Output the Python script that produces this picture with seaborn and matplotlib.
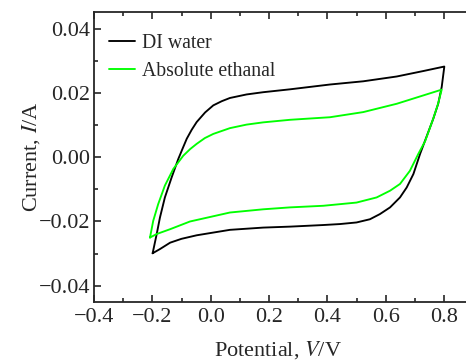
import numpy as np
import pandas as pd
import matplotlib
matplotlib.use("Agg")
import matplotlib.pyplot as plt
import seaborn as sns
from matplotlib.ticker import MultipleLocator

# Data (potential in V, current in A)
# DI water: forward scan (-0.2 -> 0.8) then reverse scan back to -0.2
water_fwd_v = [-0.199, -0.185, -0.174, -0.157, -0.134, -0.111, -0.095, -0.082, -0.065, -0.048,
               -0.019, 0.009, 0.038, 0.066, 0.123, 0.18, 0.272, 0.409, 0.523, 0.638, 0.729, 0.801]
water_fwd_i = [-0.0299, -0.0239, -0.0188, -0.0125, -0.0063, -0.0005, 0.0030, 0.0058, 0.0086, 0.0110,
               0.0140, 0.0162, 0.0175, 0.0185, 0.0196, 0.0203, 0.0212, 0.0227, 0.0237, 0.0252, 0.0269, 0.0283]
water_rev_v = [0.792, 0.780, 0.763, 0.735, 0.718, 0.695, 0.672, 0.649, 0.615, 0.580, 0.546,
               0.50, 0.443, 0.386, 0.272, 0.18, 0.066, -0.048, -0.100, -0.139, -0.174, -0.199]
water_rev_i = [0.0219, 0.0167, 0.0120, 0.0052, 0.0011, -0.0052, -0.0094, -0.0125, -0.0156, -0.0177, -0.0193,
               -0.0203, -0.0208, -0.0211, -0.0216, -0.0219, -0.0226, -0.0243, -0.0254, -0.0266, -0.0286, -0.0299]

# Absolute ethanal
eth_fwd_v = [-0.208, -0.197, -0.180, -0.157, -0.128, -0.094, -0.070, -0.048, -0.020, 0.009,
             0.066, 0.123, 0.18, 0.272, 0.409, 0.523, 0.638, 0.729, 0.792]
eth_fwd_i = [-0.0250, -0.0198, -0.0146, -0.0088, -0.0036, 0.0005, 0.0026, 0.0042, 0.0060, 0.0073,
             0.0091, 0.0102, 0.0109, 0.0117, 0.0125, 0.0141, 0.0167, 0.0193, 0.0211]
eth_rev_v = [0.779, 0.762, 0.735, 0.712, 0.683, 0.649, 0.615, 0.569, 0.50, 0.386, 0.272,
             0.18, 0.066, -0.071, -0.139, -0.185, -0.208]
eth_rev_i = [0.0165, 0.0118, 0.0050, 0.0011, -0.0042, -0.0083, -0.0104, -0.0125, -0.0141, -0.0151, -0.0156,
             -0.0162, -0.0172, -0.0200, -0.0224, -0.0239, -0.0250]

labels = ["DI water", "Absolute ethanal"]
colors = ["black", "#00ff00"]

df = pd.concat([
    pd.DataFrame({"V": water_fwd_v + water_rev_v, "I": water_fwd_i + water_rev_i, "sample": labels[0]}),
    pd.DataFrame({"V": eth_fwd_v + eth_rev_v, "I": eth_fwd_i + eth_rev_i, "sample": labels[1]}),
], ignore_index=True)

sns.set_style("ticks")
plt.rcParams["font.family"] = ["Liberation Serif", "DejaVu Serif"]
plt.rcParams["mathtext.fontset"] = "stix"
plt.rcParams["font.size"] = 16

fig = plt.figure(figsize=(4.66, 3.62), dpi=100)
# axes run past the right edge of the image, as in the reference
ax = fig.add_axes([94 / 466, 60.3 / 362, 379.2 / 466, 289.7 / 362])

sns.lineplot(data=df, x="V", y="I", hue="sample", palette=colors, sort=False,
             estimator=None, linewidth=1.35, ax=ax)

ax.set_xlim(-0.4, 0.9)
ax.set_ylim(-0.045, 0.0453)
ax.xaxis.set_major_locator(MultipleLocator(0.2))
ax.xaxis.set_minor_locator(MultipleLocator(0.1))
ax.yaxis.set_major_locator(MultipleLocator(0.02))
ax.yaxis.set_minor_locator(MultipleLocator(0.01))
ax.xaxis.set_major_formatter(plt.FuncFormatter(lambda v, p: f"{v:.1f}".replace("-", "\u2212")))
ax.yaxis.set_major_formatter(plt.FuncFormatter(lambda v, p: f"{v:.2f}".replace("-", "\u2212")))

ax.tick_params(which="both", direction="in", top=True, right=True, width=1.2)
ax.tick_params(which="major", length=5, pad=4.5)
ax.tick_params(which="minor", length=3)
ax.tick_params(axis="y", which="major", pad=2.5)
for s in ax.spines.values():
    s.set_linewidth(1.3)

ax.set_xlabel("Potential, $\\mathit{V}$/V", labelpad=9, x=0.485)
ax.set_ylabel("Current, $\\mathit{I}$/A", labelpad=-2)

ax.legend(loc="upper left", bbox_to_anchor=(-0.008, 0.986), frameon=False,
          handlelength=1.35, handletextpad=0.35, labelspacing=0.45, title=None, fontsize=14.2)

fig.savefig("out.png", dpi=100)
